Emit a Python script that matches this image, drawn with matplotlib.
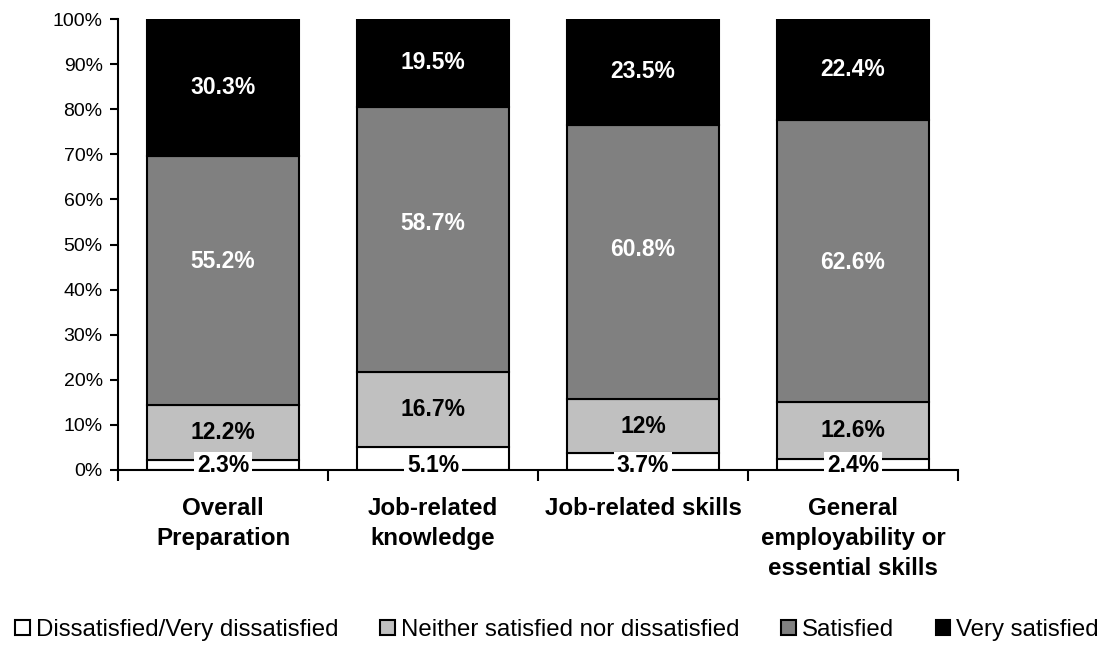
import matplotlib
matplotlib.use("Agg")
import matplotlib.pyplot as plt
import numpy as np

plt.rcParams['font.family'] = ['Liberation Sans', 'DejaVu Sans']

categories = ["Overall\nPreparation", "Job-related\nknowledge", "Job-related skills",
              "General\nemployability or\nessential skills"]
series_names = ["Dissatisfied/Very dissatisfied", "Neither satisfied nor dissatisfied",
                "Satisfied", "Very satisfied"]
dissatisfied = [2.3, 5.1, 3.7, 2.4]
neither = [12.2, 16.7, 12.0, 12.6]
satisfied = [55.2, 58.7, 60.8, 62.6]
very_satisfied = [30.3, 19.5, 23.5, 22.4]
label_texts = [
    ["2.3%", "5.1%", "3.7%", "2.4%"],
    ["12.2%", "16.7%", "12%", "12.6%"],
    ["55.2%", "58.7%", "60.8%", "62.6%"],
    ["30.3%", "19.5%", "23.5%", "22.4%"],
]
yticks = [0, 10, 20, 30, 40, 50, 60, 70, 80, 90, 100]

# small vertical nudges (percentage points) of the data labels, as placed in the original
satisfied_label_nudge = [4.2, 3.4, 2.9, -0.4]

colors = ["#FFFFFF", "#C0C0C0", "#808080", "#000000"]
text_colors = ["black", "black", "white", "white"]

fig = plt.figure(figsize=(11.14, 6.46), dpi=100)
ax = fig.add_axes([118/1114, 1-470/646, 840/1114, 451/646])

x = np.arange(len(categories))
series = [dissatisfied, neither, satisfied, very_satisfied]
bottom = np.zeros(len(categories))
for i, (vals, c) in enumerate(zip(series, colors)):
    vals = np.array(vals)
    ax.bar(x, vals, bottom=bottom, width=0.724, color=c, edgecolor="black",
           linewidth=1.5, label=series_names[i], zorder=2)
    for j in range(len(categories)):
        if i == 0:
            yc = 0.9
            ax.text(x[j], yc, label_texts[i][j], ha="center", va="center",
                    fontsize=16.5, fontweight="bold", color=text_colors[i], zorder=5,
                    bbox=dict(boxstyle="square,pad=0.12", fc="white", ec="none"))
        else:
            yc = bottom[j] + vals[j] / 2
            if i == 2:
                yc += satisfied_label_nudge[j]
            ax.text(x[j], yc, label_texts[i][j], ha="center", va="center",
                    fontsize=16.5, fontweight="bold", color=text_colors[i], zorder=5)
    bottom += vals

ax.set_xlim(-0.5, len(categories) - 0.5)
ax.set_ylim(0, 100)
ax.set_yticks(yticks)
ax.set_yticklabels([f"{t}%" for t in yticks], fontsize=14)
ax.set_xticks(np.arange(-0.5, len(categories)))
ax.set_xticklabels([])
ax.tick_params(axis="x", which="major", direction="out", length=8, width=1.5)
ax.tick_params(axis="y", direction="out", length=6, width=1.5, pad=5)
for s in ["top", "right"]:
    ax.spines[s].set_visible(False)
for s in ["left", "bottom"]:
    ax.spines[s].set_linewidth(1.5)
    ax.spines[s].set_zorder(4)

for j, cat in enumerate(categories):
    ax.text(x[j], -6.0, cat, ha="center", va="top", fontsize=17.4, fontweight="bold",
            linespacing=1.38, transform=ax.transData, clip_on=False)

handles, labels = ax.get_legend_handles_labels()
leg = fig.legend(handles, labels, loc="lower center", bbox_to_anchor=(0.5, -0.026), ncol=4,
                 frameon=False, fontsize=17.3, handlelength=0.6, handleheight=0.6,
                 handletextpad=0.25, columnspacing=1.75)

fig.savefig("out.png", dpi=100)
